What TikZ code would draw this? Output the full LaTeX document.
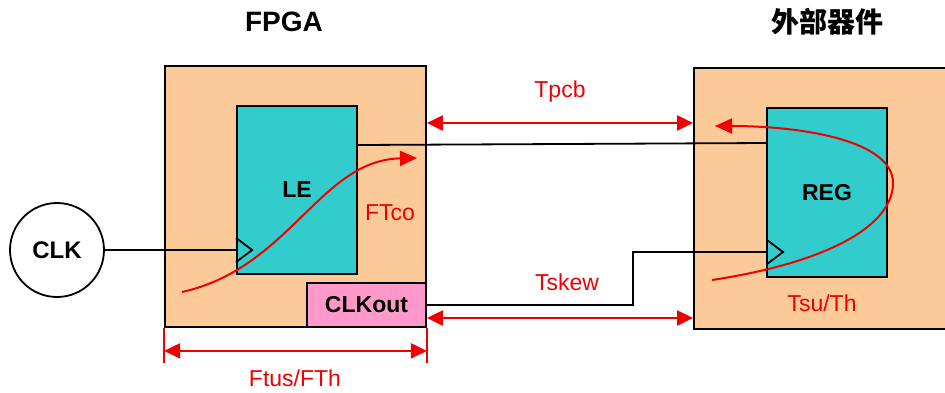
\documentclass[tikz,border=0pt]{standalone}
\usepackage{fontspec}
\setmainfont{Liberation Sans}
\newfontfamily\cjk{Noto Sans CJK SC}
\usepackage{tikz}
\usetikzlibrary{arrows.meta, positioning, calc}
\definecolor{boardorange}{RGB}{252,202,153}
\definecolor{cellteal}{RGB}{51,204,204}
\definecolor{outpink}{RGB}{255,153,204}
\definecolor{timered}{RGB}{240,0,0}

\begin{document}
\begin{tikzpicture}[
    x=1pt, y=-1pt,
    chip/.style={rectangle, draw=black, line width=1.8pt, fill=boardorange,
                 inner sep=0pt, minimum height=261pt},
    cell/.style={rectangle, draw=black, line width=1.8pt, fill=cellteal,
                 inner sep=0pt, minimum width=120pt,
                 font=\fontsize{23}{23}\selectfont\bfseries},
    outbox/.style={rectangle, draw=black, line width=1.8pt, fill=outpink,
                   inner sep=0pt, minimum width=119pt, minimum height=44pt,
                   font=\fontsize{23}{23}\selectfont\bfseries},
    src/.style={circle, draw=black, line width=1.8pt, fill=white,
                minimum size=94pt, inner sep=0pt,
                font=\fontsize{24}{24}\selectfont\bfseries},
    title/.style={font=\fontsize{28}{28}\selectfont\bfseries},
    lbl/.style={text=timered, font=\fontsize{23}{23}\selectfont},
    wire/.style={draw=black, line width=1.8pt},
    dim/.style={{Triangle[length=16pt,width=15pt]}-{Triangle[length=16pt,width=15pt]},
                draw=timered, line width=2.2pt},
    tick/.style={draw=timered, line width=2.2pt},
    flow/.style={-{Triangle[length=17pt,width=15pt]}, draw=timered, line width=2pt}
  ]
    \useasboundingbox (0,0) rectangle (945,392);
    \clip (0,0) rectangle (945,392);

    % boards
    \node[chip, minimum width=261pt] (fpga) at (295.5,196.5) {};
    \node[chip, minimum width=266pt] (ext)  at (827,198.5) {};
    \node[title] (fpgatitle) at (284,22) {FPGA};
    \node[title] (exttitle)  at (827,22) {\cjk 外部器件};

    % cells
    \node[cell, minimum height=168pt] (le)  at (297,190)   {LE};
    \node[cell, minimum height=169pt] (reg) at (827,192.5) {REG};
    \node[outbox] (clkout) at (366.5,305) {CLKout};
    \node[src] (clk) at (57,250) {CLK};

    % clock inputs
    \coordinate (leclk)  at (le.west |- clk);
    \coordinate (regclk) at (767,252);
    \draw[wire] (leclk)  ++(0,-12) -- ++(16,12) -- ++(-16,12);
    \draw[wire] (regclk) ++(0,-12) -- ++(16,12) -- ++(-16,12);

    % wires
    \draw[wire] (clk) -- (leclk);
    \draw[wire] (le.east |- 0,145) -- (reg.west |- 0,143);
    \draw[wire] (clkout.east) -- ++(206,0) |- (regclk);

    % timing arrows
    \draw[dim] (fpga.east |- 0,123) -- (ext.west |- 0,123);
    \node[lbl] (tpcb) at (560,92) {Tpcb};
    \draw[dim] (fpga.east |- 0,318) -- (ext.west |- 0,318);
    \node[lbl] (tskew) at (567,282) {Tskew};
    \draw[tick] (fpga.south west) -- ++(0,35);
    \draw[tick] (fpga.south east) -- ++(0,35);
    \draw[dim] ($(fpga.south west)+(0,23)$) -- ($(fpga.south east)+(0,23)$);
    \node[lbl] (ftus) at (295,378) {Ftus/FTh};

    % paths through the cells
    \draw[flow] (182,292) .. controls (290,268) and (320,160) .. (417,158);
    \node[lbl] (ftco) at (390,213) {FTco};
    \draw[flow] (712,280) .. controls (830,262) and (893,225) .. (893,183)
                          .. controls (893,140) and (800,126) .. (715,126);
    \node[lbl] (tsuth) at (822,303) {Tsu/Th};

  \end{tikzpicture}
\end{document}
